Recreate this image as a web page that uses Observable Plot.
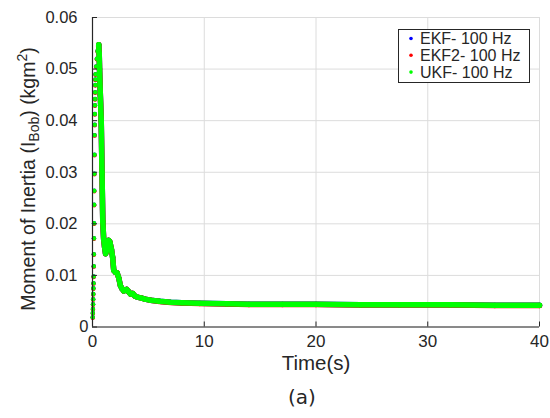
<!DOCTYPE html>
<html><head><meta charset="utf-8">
<script src="https://cdn.jsdelivr.net/npm/d3@7"></script>
<script src="https://cdn.jsdelivr.net/npm/@observablehq/plot@0.6"></script>
<style>body{margin:0;background:#fff;}</style>
</head><body><div id="chart"></div>
<script>
// ---- data ----
const seriesNames = ["EKF- 100 Hz", "EKF2- 100 Hz", "UKF- 100 Hz"];
const seriesColors = ["#0000ff", "#ff0000", "#00ff00"];
const xTicks = [0, 10, 20, 30, 40];
const yTicks = [0, 0.01, 0.02, 0.03, 0.04, 0.05, 0.06];

// rising phase (individual samples visible)
const riseT = [0.02,0.03,0.04,0.05,0.06,0.07,0.08,0.09,0.10,0.11,0.12,0.13,0.14,0.15,0.16,0.17,0.18,0.19,0.20,0.21,0.22,0.23,0.24,0.25,0.26,0.27,0.33,0.39,0.45,0.51];
const ekfRise  = [0.0019,0.0027,0.0035,0.0044,0.0054,0.0064,0.0075,0.0085,0.0098,0.0118,0.0141,0.0172,0.0201,0.0237,0.0264,0.0297,0.0334,0.0372,0.0392,0.0413,0.0430,0.0442,0.0455,0.0469,0.0480,0.0490,0.0505,0.0520,0.0535,0.0545];
const ekf2Rise = [0.0018,0.0026,0.0034,0.0043,0.0053,0.0063,0.0074,0.0084,0.0097,0.0117,0.0140,0.0171,0.0200,0.0236,0.0263,0.0296,0.0333,0.0371,0.0391,0.0412,0.0429,0.0441,0.0454,0.0468,0.0479,0.0489,0.0504,0.0519,0.0534,0.0544];
const ukfRise  = [0.0019,0.0027,0.0035,0.0044,0.0054,0.0064,0.0075,0.0085,0.0098,0.0118,0.0141,0.0172,0.0201,0.0237,0.0264,0.0297,0.0334,0.0372,0.0392,0.0413,0.0430,0.0442,0.0455,0.0469,0.0480,0.0490,0.0505,0.0520,0.0535,0.0545];

// decay phase (dense samples forming a band)
const decayT = [0.56,0.6,0.63,0.7,0.78,0.85,0.92,1.0,1.08,1.17,1.3,1.45,1.55,1.7,1.8,1.9,2.05,2.2,2.35,2.5,2.65,2.8,3.05,3.25,3.4,3.6,3.8,4.0,4.4,4.7,5.2,6.0,7.0,8.0,9.6,12,14,17,20,24,27.5,32,36,40];
const ekfDecay  = [0.0547,0.0530,0.0500,0.0450,0.0400,0.0300,0.0205,0.0170,0.0155,0.0142,0.0150,0.0168,0.0165,0.0150,0.0135,0.0110,0.0106,0.0105,0.0095,0.0080,0.0074,0.0070,0.0073,0.0068,0.0064,0.0065,0.0060,0.0058,0.0056,0.0054,0.0052,0.0050,0.0048,0.0047,0.0046,0.0045,0.0044,0.0044,0.0044,0.0043,0.0043,0.0043,0.0042,0.0042];
const ekf2Decay = [0.0547,0.0530,0.0500,0.0450,0.0400,0.0300,0.0205,0.0170,0.0155,0.0142,0.0150,0.0168,0.0165,0.0150,0.0135,0.0110,0.0106,0.0105,0.0095,0.0080,0.0074,0.0070,0.0073,0.0068,0.0064,0.0065,0.0060,0.0058,0.0056,0.0054,0.0052,0.00495,0.00475,0.00465,0.00455,0.00445,0.00435,0.00435,0.00435,0.00425,0.00425,0.00425,0.00415,0.00415];
const ukfDecay  = [0.0547,0.0530,0.0500,0.0450,0.0400,0.0300,0.0205,0.0170,0.0155,0.0142,0.0150,0.0168,0.0165,0.0150,0.0135,0.0110,0.0106,0.0105,0.0095,0.0080,0.0074,0.0070,0.0073,0.0068,0.0064,0.0065,0.0060,0.0058,0.0056,0.0054,0.0052,0.0050,0.0048,0.0047,0.0046,0.0045,0.0044,0.0044,0.0044,0.0043,0.0043,0.0043,0.0042,0.0042];

// ---- build tables ----
const riseVals = [ekfRise, ekf2Rise, ukfRise];
const decayVals = [ekfDecay, ekf2Decay, ukfDecay];
const ink = "#262626";

const seriesMarks = seriesNames.flatMap((name, k) => {
  const rise = riseT.map((t, i) => ({t, v: riseVals[k][i], name}));
  const decay = decayT.map((t, i) => ({t, v: decayVals[k][i], name}));
  return [
    Plot.line(decay, {x: "t", y: "v", stroke: seriesColors[k], strokeWidth: 5.5, strokeLinecap: "round", strokeLinejoin: "round"}),
    Plot.dot(decay, {x: "t", y: "v", fill: seriesColors[k], r: 2.6}),
    Plot.dot(rise, {x: "t", y: "v", fill: seriesColors[k], r: 2.2})
  ];
});

const yFmt = d => d.toFixed(2);

const chart = Plot.plot({
  width: 550, height: 418,
  marginLeft: 92, marginRight: 11, marginTop: 17, marginBottom: 91.5,
  style: {fontFamily: "'Liberation Sans', Arial, sans-serif", fontSize: "16px", color: ink, background: "#fff"},
  x: {domain: [0, 40]},
  y: {domain: [0, 0.06]},
  marks: [
    Plot.gridX(xTicks, {stroke: "#dcdcdc", strokeOpacity: 1}),
    Plot.gridY(yTicks, {stroke: "#dcdcdc", strokeOpacity: 1}),
    ...seriesMarks,
    Plot.ruleX([0], {stroke: ink, strokeWidth: 1.2}),
    Plot.ruleY([0], {stroke: ink, strokeWidth: 1.2}),
    Plot.axisX(xTicks, {tickSize: 0, tickPadding: 8, fontSize: 17, label: null, tickFormat: d => String(d)}),
    Plot.axisX(xTicks, {tickSize: 5, dy: -5, label: null, tickFormat: () => ""}),
    Plot.axisY(yTicks.slice(1), {tickSize: 0, tickPadding: 15, fontSize: 16.5, label: null, tickFormat: yFmt}),
    Plot.axisY([0], {tickSize: 0, tickPadding: 4, fontSize: 16.5, label: null, tickFormat: () => "0"}),
    Plot.axisY(yTicks, {tickSize: 5, dx: 5, label: null, tickFormat: () => ""}),
    Plot.text(["Time(s)"], {frameAnchor: "bottom", lineAnchor: "middle", dy: 36, fontSize: 20.5, fill: ink}),
    Plot.text(["(a)"], {frameAnchor: "bottom", lineAnchor: "middle", dx: -14, dy: 70.5, fontSize: 20, fill: ink, fontFamily: "'DejaVu Sans', sans-serif"})
  ]
});

document.getElementById("chart").appendChild(chart);

// y-axis label with subscript / superscript
const svg = d3.select(chart);
const yl = svg.append("text")
  .attr("transform", "translate(28,179) rotate(-90)")
  .attr("text-anchor", "middle")
  .attr("dy", "0.35em")
  .attr("font-size", 19.5)
  .attr("fill", ink)
  .attr("font-family", "'Liberation Sans', Arial, sans-serif");
yl.append("tspan").text("Moment of Inertia (I");
yl.append("tspan").attr("font-size", 14).attr("dy", 4).text("Bob");
yl.append("tspan").attr("dy", -4).text(") (kgm");
yl.append("tspan").attr("font-size", 14).attr("dy", -8).text("2");
yl.append("tspan").attr("dy", 8).text(")");

// legend
const lg = svg.append("g").attr("font-family", "'Liberation Sans', Arial, sans-serif").attr("font-size", 16).attr("text-anchor", "start");
lg.append("rect").attr("x", 398.5).attr("y", 29.5).attr("width", 131).attr("height", 53)
  .attr("fill", "#fff").attr("stroke", ink).attr("stroke-width", 1);
seriesNames.forEach((name, i) => {
  const cy = 38.5 + i * 16.8;
  lg.append("circle").attr("cx", 411).attr("cy", cy).attr("r", 1.8).attr("fill", seriesColors[i]);
  lg.append("text").attr("x", 420).attr("y", cy).attr("dy", "0.35em").attr("text-anchor", "start").attr("fill", ink).text(name);
});
</script>
</body></html>
